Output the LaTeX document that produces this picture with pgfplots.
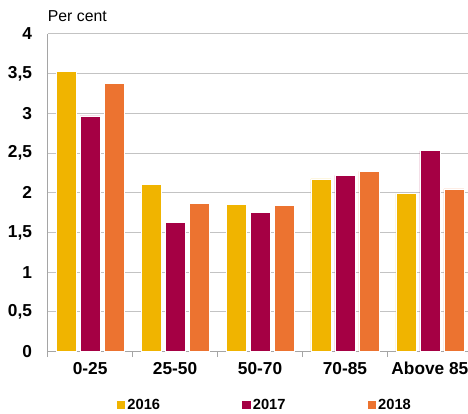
\documentclass[border=0pt]{standalone}
\usepackage{fontspec}
\setmainfont{Liberation Sans}
\usepackage{pgfplots}
\pgfplotsset{compat=1.18}
\definecolor{c16}{RGB}{240,180,0}
\definecolor{c17}{RGB}{165,0,68}
\definecolor{c18}{RGB}{236,115,48}
\definecolor{gridc}{RGB}{195,195,195}
\definecolor{axc}{RGB}{165,165,165}
\begin{document}
\begin{tikzpicture}
\begin{axis}[
  name=ax,
  scale only axis, width=420bp, height=317.7bp,
  ymin=0, ymax=4, xmin=-0.5, xmax=4.445,
  ybar=4bp, bar width=20bp,
  axis lines*=left,
  axis line style={-, draw=axc, line width=1.4bp},
  ytick={0,0.5,...,4},
  ymajorgrids, major grid style={draw=gridc, line width=1bp},
  major tick length=0pt,
  xtick={0,1,2,3,4},
  xticklabels={0-25,25-50,50-70,70-85,Above 85},
  minor xtick={-0.5,0.5,1.5,2.5,3.5},
  minor tick length=5.5bp,
  tick align=outside,
  minor tick style={draw=axc, line width=1bp},
  /pgf/number format/use comma,
  /pgf/number format/assume math mode=true,
  yticklabel style={anchor=east, inner sep=0pt, xshift=-15.5bp, font=\fontsize{17.3bp}{20bp}\selectfont\bfseries},
  xticklabel style={anchor=north, inner sep=0pt, yshift=-10.5bp, font=\fontsize{17.3bp}{20bp}\selectfont\bfseries},
  legend columns=3,
  legend style={draw=none, fill=none, at={(0.517,-0.168)}, anchor=center,
    font=\fontsize{14.7bp}{18bp}\selectfont\bfseries,
    /tikz/every even column/.append style={column sep=80bp},
    cells={anchor=west}},
  legend image code/.code={\fill[#1,draw=none] (0bp,-4.35bp) rectangle (8.7bp,4.35bp);},
]
\addplot[fill=c16, draw=white, line width=0.6bp] coordinates {(0,3.53) (1,2.11) (2,1.85) (3,2.175) (4,1.99)};
\addplot[fill=c17, draw=white, line width=0.6bp] coordinates {(0,2.97) (1,1.625) (2,1.75) (3,2.22) (4,2.53)};
\addplot[fill=c18, draw=white, line width=0.6bp] coordinates {(0,3.38) (1,1.87) (2,1.84) (3,2.27) (4,2.05)};
\legend{2016,2017,2018}
\end{axis}
\node[anchor=west, inner sep=0pt, font=\fontsize{15.8bp}{18bp}\selectfont] at ([yshift=18bp]ax.north west) {Per cent};
\pgfresetboundingbox
\path (-47.7bp,-62.3bp) rectangle (420.3bp,351.7bp);
\end{tikzpicture}
\end{document}
